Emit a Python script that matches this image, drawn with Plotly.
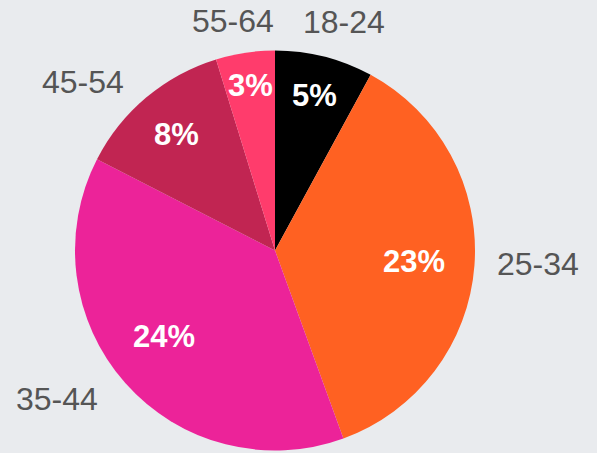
import math
import plotly.graph_objects as go

# ---- data ----
age_groups = ["18-24", "25-34", "35-44", "45-54", "55-64"]
shares = [5, 23, 24, 8, 3]
slice_colors = ["#000000", "#FF6122", "#EC2399", "#C12552", "#FF3C6C"]

# ---- layout / style constants ----
W, H = 597, 453
CX, CY, R = 275.0, 250.5, 200.0          # pie centre & radius in px
LABEL_RX, LABEL_RY = 264.0, 232.0        # ellipse on which outer labels are centred
label_nudge_px = [(4, -4), (0, -4), (-20, -5), (-22, 9), (-3, 0)]
value_nudge_px = [(0, 0), (-1, 1), (-6, -7), (-2, -1), (0, 0)]
FONT = "Liberation Sans, Arial, Helvetica, sans-serif"

fig = go.Figure()
fig.add_trace(go.Pie(
    labels=age_groups, values=shares, sort=False, direction="clockwise", rotation=0,
    marker=dict(colors=slice_colors, line=dict(width=0)),
    textinfo="none", showlegend=False, hoverinfo="skip",
    domain=dict(x=[(CX - R) / W, (CX + R) / W], y=[(H - CY - R) / H, (H - CY + R) / H]),
))

total = float(sum(shares))
cum = 0.0
annotations = []
for i, (lab, v) in enumerate(zip(age_groups, shares)):
    frac = v / total
    theta = (cum + v / 2.0) / total * 2 * math.pi
    cum += v
    s, c = math.sin(theta), math.cos(theta)
    # value label inside the slice
    k = max(0.70, 0.88 - frac)
    vx, vy = value_nudge_px[i]
    px, py = CX + k * R * s + vx, CY - k * R * c + vy
    annotations.append(dict(
        x=px / W, y=1 - py / H, xref="paper", yref="paper", xanchor="center", yanchor="middle",
        text=f"{v}%", showarrow=False,
        font=dict(family=FONT, size=31, color="#FFFFFF", weight="bold"),
    ))
    # category label outside the pie
    nx, ny = label_nudge_px[i]
    lx, ly = CX + LABEL_RX * s + nx, CY - LABEL_RY * c + ny
    annotations.append(dict(
        x=lx / W, y=1 - ly / H, xref="paper", yref="paper", xanchor="center", yanchor="middle",
        text=lab, showarrow=False,
        font=dict(family=FONT, size=32, color="#555555"),
    ))

fig.update_layout(
    width=W, height=H,
    margin=dict(l=0, r=0, t=0, b=0),
    paper_bgcolor="#E9EBEE", plot_bgcolor="#E9EBEE",
    showlegend=False,
    annotations=annotations,
)
fig.write_html("out.html", config={"displayModeBar": False},
               post_script="document.body.style.margin='0';")
